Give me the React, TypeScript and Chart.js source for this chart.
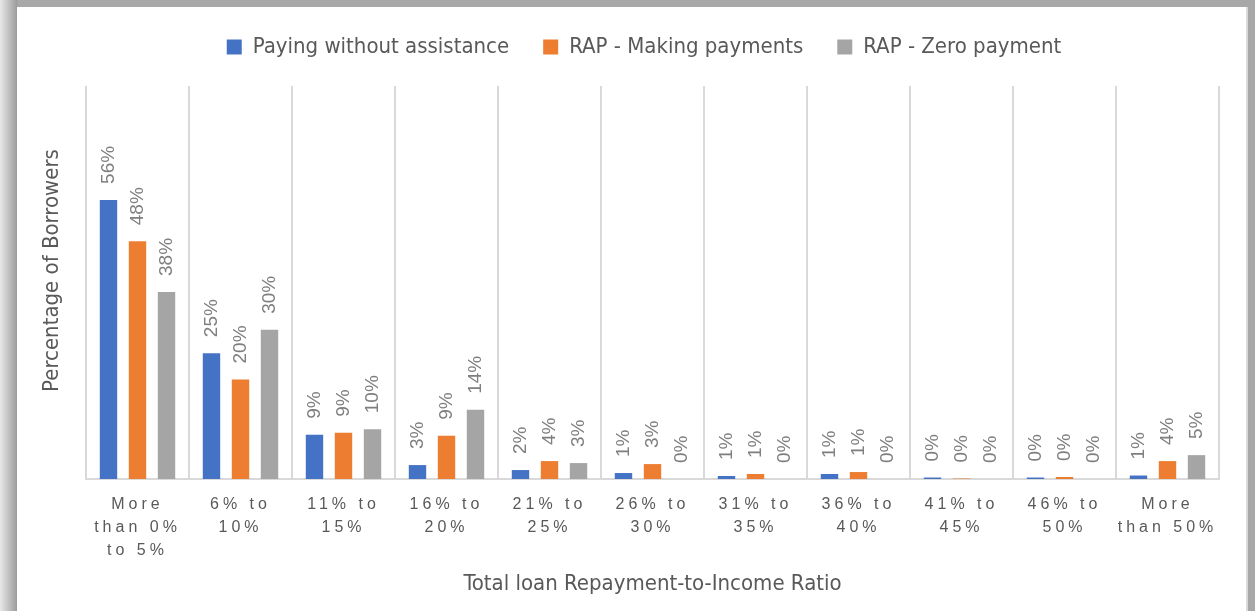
import React, { useEffect, useRef } from "react";
import { Chart, registerables } from "chart.js";

Chart.register(...registerables);

const categories: string[][] = [
  ["More", "than 0%", "to 5%"],
  ["6% to", "10%"],
  ["11% to", "15%"],
  ["16% to", "20%"],
  ["21% to", "25%"],
  ["26% to", "30%"],
  ["31% to", "35%"],
  ["36% to", "40%"],
  ["41% to", "45%"],
  ["46% to", "50%"],
  ["More", "than 50%"],
];

const seriesNames = ["Paying without assistance", "RAP - Making payments", "RAP - Zero payment"];
const payingWithoutAssistance = [56.1, 25.3, 8.9, 2.8, 1.8, 1.2, 0.6, 1.0, 0.3, 0.3, 0.7];
const rapMakingPayments = [47.8, 20.0, 9.3, 8.7, 3.6, 3.0, 1.0, 1.4, 0.1, 0.4, 3.6];
const rapZeroPayment = [37.6, 30.0, 10.0, 13.9, 3.2, 0, 0, 0, 0, 0, 4.8];
const seriesColors = ["#4472C4", "#ED7D31", "#A5A5A5"];

const xTitle = "Total loan Repayment-to-Income Ratio";
const yTitle = "Percentage of Borrowers";

const NARROW = "'DejaVu Sans Condensed', 'Liberation Sans', sans-serif";
const REG = "'Liberation Sans', Arial, sans-serif";

const CANVAS_W = 1229;
const CANVAS_H = 604;

const labelPlugin = {
  id: "barValueLabels",
  afterDatasetsDraw(chart: any) {
    const ctx = chart.ctx;
    chart.data.datasets.forEach((ds: any, i: number) => {
      const meta = chart.getDatasetMeta(i);
      meta.data.forEach((bar: any, j: number) => {
        const v = ds.data[j] as number;
        const txt = Math.round(v) + "%";
        ctx.save();
        ctx.translate(bar.x, bar.y - 16);
        ctx.rotate(-Math.PI / 2);
        ctx.textAlign = "left";
        ctx.textBaseline = "middle";
        ctx.font = `19px ${REG}`;
        ctx.fillStyle = "#7f7f7f";
        ctx.fillText(txt, 0, 0);
        ctx.restore();
      });
    });
  },
};

const layoutPlugin = {
  id: "layoutTweaks",
  beforeLayout(chart: any) {
    const lg = chart.legend;
    if (lg && !lg._fitPatched) {
      const orig = lg.fit;
      lg.fit = function (this: any) {
        orig.call(this);
        this.height = 79;
      };
      lg._fitPatched = true;
    }
  },
  afterLayout(chart: any) {
    const lg = chart.legend;
    if (lg) {
      lg.top -= 5;
      lg.bottom -= 5;
      lg.left += 26;
      lg.right += 26;
    }
  },
};

export default function App() {
  const ref = useRef<HTMLCanvasElement | null>(null);

  useEffect(() => {
    if (!ref.current) return;
    const chart = new Chart(ref.current, {
      type: "bar",
      data: {
        labels: categories,
        datasets: [
          { label: seriesNames[0], data: payingWithoutAssistance, backgroundColor: seriesColors[0], borderWidth: 0 },
          { label: seriesNames[1], data: rapMakingPayments, backgroundColor: seriesColors[1], borderWidth: 0 },
          { label: seriesNames[2], data: rapZeroPayment, backgroundColor: seriesColors[2], borderWidth: 0 },
        ],
      },
      options: {
        responsive: false,
        animation: false,
        devicePixelRatio: 1,
        datasets: { bar: { categoryPercentage: 0.845, barPercentage: 0.6 } },
        layout: { padding: { left: 0, right: 27, top: 0, bottom: 0 } },
        plugins: {
          tooltip: { enabled: false },
          legend: {
            position: "top",
            labels: {
              boxWidth: 15,
              boxHeight: 15,
              padding: 34,
              color: "#595959",
              font: { size: 22, family: NARROW },
            },
          },
        },
        scales: {
          x: {
            grid: { display: true, offset: true, color: "#d9d9d9", lineWidth: 2, drawTicks: false },
            border: { display: true, color: "#d9d9d9", width: 2 },
            ticks: {
              color: "#595959",
              font: { size: 16, family: REG, lineHeight: 1.44 },
              padding: 14,
              maxRotation: 0,
              minRotation: 0,
              autoSkip: false,
            },
            title: {
              display: true,
              text: xTitle,
              color: "#595959",
              font: { size: 22, family: NARROW },
              padding: { top: 0, bottom: 14 },
            },
            afterFit(scale: any) {
              scale.height = 132;
            },
            afterUpdate(scale: any) {
              if (!scale._lsPatched) {
                const orig = scale.drawLabels.bind(scale);
                scale.drawLabels = (area: any) => {
                  const c = scale.ctx;
                  c.save();
                  (c as any).letterSpacing = "4px";
                  orig(area);
                  c.restore();
                };
                scale._lsPatched = true;
              }
            },
          },
          y: {
            min: 0,
            max: 79,
            grid: { display: false },
            border: { display: false },
            ticks: { display: false },
            title: {
              display: true,
              text: yTitle,
              color: "#595959",
              font: { size: 22, family: NARROW },
              padding: { top: 22, bottom: 0 },
            },
            afterFit(scale: any) {
              scale.width = 69;
            },
            afterUpdate(scale: any) {
              if (!scale._ttPatched) {
                const orig = scale.drawTitle.bind(scale);
                scale.drawTitle = () => {
                  const c = scale.ctx;
                  c.save();
                  c.translate(0, -12);
                  orig();
                  c.restore();
                };
                scale._ttPatched = true;
              }
            },
          },
        },
      },
      plugins: [labelPlugin, layoutPlugin],
    } as any);
    return () => chart.destroy();
  }, []);

  return (
    <div
      style={{
        position: "fixed",
        left: 0,
        top: 0,
        width: 1255,
        height: 611,
        background: "linear-gradient(to right, #e8e8e8 0px, #9c9c9c 17px, #a8a8a8 18px, #a8a8a8 100%)",
        overflow: "hidden",
      }}
    >
      <div
        style={{
          position: "absolute",
          left: 17,
          top: 7,
          width: CANVAS_W,
          height: CANVAS_H,
          background: "#ffffff",
          borderRight: "2px solid #d9d9d9",
        }}
      >
        <canvas ref={ref} width={CANVAS_W} height={CANVAS_H} style={{ display: "block" }} />
      </div>
    </div>
  );
}
